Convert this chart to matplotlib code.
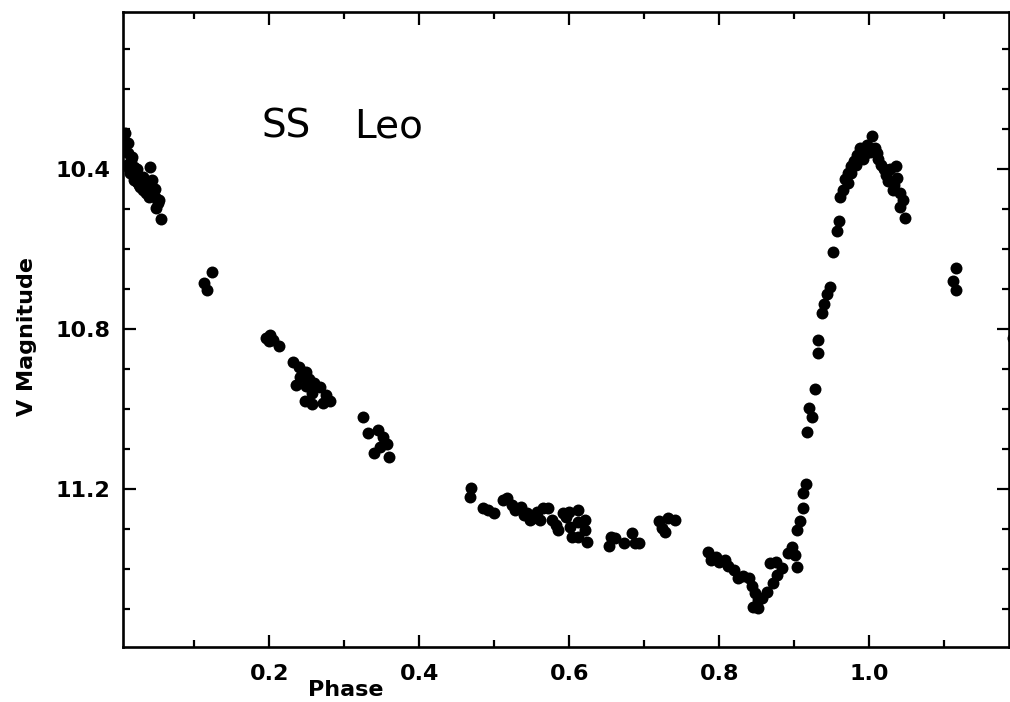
import matplotlib
matplotlib.use("Agg")
import matplotlib.pyplot as plt
import numpy as np

# ---- data (phase, V magnitude) ----
phase_a = [0.008, 0.011, 0.012, 0.015, 0.017, 0.019, 0.012, 0.021, 0.024, 0.028,
           0.032, 0.019, 0.028, 0.032, 0.037, 0.041, 0.044, 0.044, 0.048, 0.053,
           0.051, 0.049, 0.055, 0.006, 0.010, 0.005, 0.014, 0.023, 0.026, 0.035,
           0.040, 0.047]
mag_a = [10.31, 10.335, 10.36, 10.378, 10.37, 10.395, 10.395, 10.41, 10.433, 10.428,
         10.42, 10.428, 10.445, 10.453, 10.445, 10.395, 10.428, 10.46, 10.47, 10.478,
         10.485, 10.498, 10.525, 10.34, 10.39, 10.325, 10.41, 10.40, 10.44, 10.46,
         10.47, 10.45]

phase_b = [0.113, 0.117, 0.124]
mag_b = [10.685, 10.703, 10.658]

phase_c = [0.195, 0.201, 0.205, 0.213, 0.231, 0.240, 0.249, 0.241, 0.236, 0.249,
           0.259, 0.268, 0.257, 0.247, 0.257, 0.271, 0.281, 0.276, 0.199, 0.253]
mag_c = [10.823, 10.815, 10.828, 10.843, 10.883, 10.895, 10.908, 10.92, 10.94, 10.943,
         10.935, 10.945, 10.96, 10.98, 10.988, 10.985, 10.98, 10.965, 10.83, 10.925]

phase_d = [0.325, 0.332, 0.345, 0.352, 0.357, 0.339, 0.359, 0.348]
mag_d = [11.02, 11.06, 11.053, 11.07, 11.088, 11.11, 11.12, 11.095]

phase_e = [0.469, 0.467, 0.485, 0.499, 0.511, 0.517, 0.524, 0.535, 0.544, 0.548,
           0.557, 0.565, 0.572, 0.561, 0.577, 0.585, 0.592, 0.599, 0.611, 0.612,
           0.601, 0.621, 0.621, 0.604, 0.624, 0.611, 0.492, 0.528, 0.552, 0.540,
           0.582, 0.596]
mag_e = [11.198, 11.22, 11.248, 11.26, 11.228, 11.223, 11.24, 11.245, 11.26, 11.278,
         11.258, 11.248, 11.248, 11.278, 11.278, 11.303, 11.26, 11.258, 11.253, 11.283,
         11.295, 11.278, 11.303, 11.32, 11.333, 11.32, 11.253, 11.253, 11.273, 11.265,
         11.29, 11.27]

phase_f = [0.655, 0.653, 0.661, 0.673, 0.684, 0.688, 0.693, 0.719, 0.724, 0.732,
           0.741, 0.728]
mag_f = [11.32, 11.343, 11.323, 11.335, 11.31, 11.335, 11.335, 11.28, 11.298, 11.273,
         11.278, 11.308]

phase_g = [0.785, 0.789, 0.799, 0.808, 0.812, 0.819, 0.825, 0.831, 0.839, 0.844,
           0.851, 0.845, 0.852, 0.857, 0.864, 0.871, 0.877, 0.868, 0.875, 0.884,
           0.891, 0.897, 0.901, 0.904, 0.904, 0.908, 0.795, 0.848]
mag_g = [11.358, 11.378, 11.383, 11.378, 11.393, 11.403, 11.423, 11.418, 11.423, 11.443,
         11.478, 11.495, 11.498, 11.473, 11.458, 11.435, 11.415, 11.385, 11.383, 11.398,
         11.36, 11.345, 11.365, 11.395, 11.303, 11.28, 11.37, 11.46]

phase_h = [0.911, 0.912, 0.915, 0.917, 0.924, 0.919, 0.928, 0.931, 0.932, 0.937,
           0.939, 0.944, 0.948, 0.952, 0.957, 0.959]
mag_h = [11.248, 11.21, 11.188, 11.058, 11.02, 10.998, 10.95, 10.86, 10.828, 10.76,
         10.738, 10.713, 10.695, 10.608, 10.555, 10.53]

phase_i = [0.961, 0.965, 0.972, 0.971, 0.975, 0.979, 0.984, 0.988, 0.997, 1.004,
           1.001, 0.992, 1.008, 1.012, 1.019, 1.028, 1.035, 1.025, 1.037, 1.031,
           1.041, 1.045, 1.041, 1.048, 0.968, 0.982, 0.995, 1.015, 1.022, 0.976,
           1.010, 1.033]
mag_i = [10.47, 10.453, 10.435, 10.41, 10.393, 10.38, 10.365, 10.348, 10.34, 10.318,
         10.358, 10.375, 10.348, 10.375, 10.4, 10.4, 10.393, 10.43, 10.423, 10.453,
         10.46, 10.478, 10.495, 10.523, 10.425, 10.39, 10.36, 10.39, 10.415, 10.41,
         10.36, 10.44]

phase_j = [1.115, 1.111, 1.115, 1.191]
mag_j = [10.648, 10.68, 10.703, 10.823]

phases = np.concatenate([phase_a, phase_b, phase_c, phase_d, phase_e, phase_f,
                         phase_g, phase_h, phase_i, phase_j])
mags = np.concatenate([mag_a, mag_b, mag_c, mag_d, mag_e, mag_f,
                       mag_g, mag_h, mag_i, mag_j])

x_major = [0.2, 0.4, 0.6, 0.8, 1.0]
x_labels = ["0.2", "0.4", "0.6", "0.8", "1.0"]
y_major = [10.4, 10.8, 11.2]
y_labels = ["10.4", "10.8", "11.2"]

# ---- figure ----
W, H = 1010, 702
fig = plt.figure(figsize=(W / 100, H / 100), dpi=100)
ax = fig.add_axes([123 / W, 1 - 647 / H, (1009 - 123) / W, (647 - 12) / H])

ax.scatter(phases, mags, s=74, color="black", linewidths=0, zorder=3)

ax.set_xlim(0.005, 1.186)
ax.set_ylim(11.595, 10.007)

ax.set_xticks(x_major)
ax.set_xticklabels(x_labels)
ax.set_xticks(np.arange(0.1, 1.19, 0.1), minor=True)
ax.set_yticks(y_major)
ax.set_yticklabels(y_labels)
ax.set_yticks(np.arange(10.1, 11.59, 0.1), minor=True)

for lab in ax.get_xticklabels() + ax.get_yticklabels():
    lab.set_fontweight("bold")
    lab.set_fontfamily("DejaVu Sans")

ax.tick_params(which="both", direction="in", top=True, right=True,
               width=1.6, colors="black", labelsize=16)
ax.tick_params(which="major", length=9)
ax.tick_params(which="minor", length=5)
ax.tick_params(axis="x", which="major", pad=12)
ax.tick_params(axis="y", which="major", pad=9)

for sp in ax.spines.values():
    sp.set_linewidth(1.9)

fig.text(261 / W, 1 - 138 / H, "SS", fontsize=28, ha="left", va="baseline",
         family="DejaVu Sans")
fig.text(354 / W, 1 - 138 / H, "Leo", fontsize=28, ha="left", va="baseline",
         family="DejaVu Sans")

fig.text(346 / W, 1 - 690 / H, "Phase", fontsize=16, fontweight="bold",
         ha="center", va="center", family="DejaVu Sans")
fig.text(27 / W, 1 - 336 / H, "V Magnitude", fontsize=16, fontweight="bold",
         ha="center", va="center", rotation=90, family="DejaVu Sans")

fig.savefig("out.png", dpi=100)
